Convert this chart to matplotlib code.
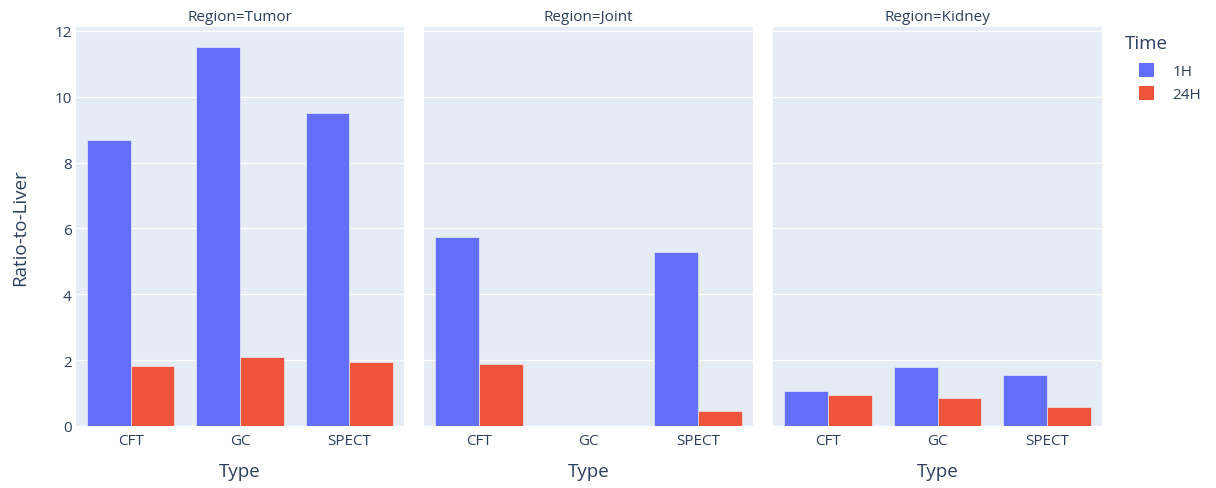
import numpy as np
import matplotlib
matplotlib.use('Agg')
import matplotlib.pyplot as plt
from matplotlib.patches import Patch

plt.rcParams['font.family'] = ['Open Sans', 'DejaVu Sans']

regions = ['Tumor', 'Joint', 'Kidney']
types = ['CFT', 'GC', 'SPECT']
times = ['1H', '24H']
colors = ['#636EFA', '#EF553B']

# ratio-to-liver per region, order CFT, GC, SPECT
tumor_1h = [8.69, 11.51, 9.52]
tumor_24h = [1.82, 2.10, 1.95]
joint_1h = [5.75, np.nan, 5.28]
joint_24h = [1.88, np.nan, 0.47]
kidney_1h = [1.07, 1.80, 1.55]
kidney_24h = [0.94, 0.84, 0.59]

series = {
    'Tumor': [tumor_1h, tumor_24h],
    'Joint': [joint_1h, joint_24h],
    'Kidney': [kidney_1h, kidney_24h],
}

W, H = 1216, 489
fig = plt.figure(figsize=(W / 100, H / 100), dpi=100)
txt = '#2a3f5f'

panels_x = [(76, 404), (424, 753), (773, 1102)]
top, bottom = 28, 427
x = np.arange(len(types))
bw = 0.4

for i, (reg, (x0, x1)) in enumerate(zip(regions, panels_x)):
    ax = fig.add_axes([x0 / W, 1 - bottom / H, (x1 - x0) / W, (bottom - top) / H])
    ax.set_facecolor('#E5ECF6')
    for j, vals in enumerate(series[reg]):
        ax.bar(x + (j - 0.5) * bw, vals, width=bw, color=colors[j],
               edgecolor='#E5ECF6', linewidth=0.5, zorder=3)
    ax.set_ylim(0, 12.12)
    ax.set_xlim(-0.5, 2.5)
    ax.set_yticks(range(0, 13, 2))
    ax.grid(axis='y', color='white', linewidth=1.0, zorder=0)
    ax.set_axisbelow(True)
    for s in ax.spines.values():
        s.set_visible(False)
    ax.tick_params(length=0, colors=txt, labelsize=11, pad=3)
    ax.tick_params(axis='x', pad=5)
    ax.set_xticks(x)
    ax.set_xticklabels(types)
    ax.set_xlabel('Type', color=txt, fontsize=13.5, labelpad=10)
    ax.set_title(f'Region={reg}', color=txt, fontsize=11, pad=5)
    if i == 0:
        ax.set_ylabel('Ratio-to-Liver', color=txt, fontsize=13.5, labelpad=18)
    else:
        ax.set_yticklabels([])

fig.text(1125 / W, 1 - 44 / H, 'Time', color=txt, fontsize=13.5,
         ha='left', va='center')
handles = [Patch(facecolor=c, edgecolor='none') for c in colors]
leg = fig.legend(handles, times, loc='upper left',
                 bbox_to_anchor=(1139 / W, 1 - 64 / H), frameon=False,
                 fontsize=11, handlelength=1.0, handleheight=1.0,
                 handletextpad=1.2, labelspacing=0.45,
                 borderpad=0, borderaxespad=0)
for t in leg.get_texts():
    t.set_color(txt)

fig.savefig('out.png', dpi=100, facecolor='white')
